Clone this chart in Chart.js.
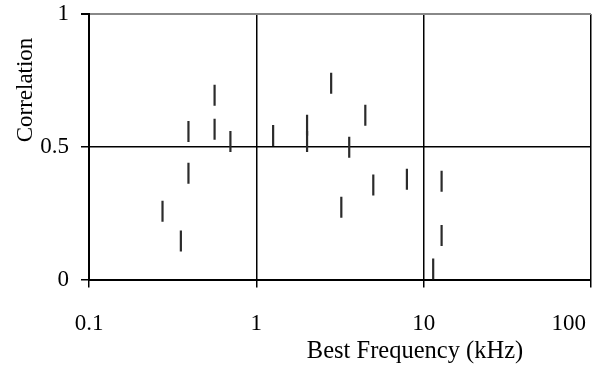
<!DOCTYPE html>
<html>
<head>
<meta charset="utf-8">
<script src="https://cdn.jsdelivr.net/npm/chart.js@4"></script>
<style>
  html, body { margin: 0; padding: 0; background: #fff; }
  #wrap { width: 592px; height: 367px; }
</style>
</head>
<body>
<div id="wrap"><canvas id="chart"></canvas></div>
<script>
// values
const bestFreq = [0.275, 0.354, 0.393, 0.393, 0.563, 0.563, 0.70, 1.26, 2.01, 2.01, 2.80, 3.22, 3.59, 4.48, 5.0, 7.94, 11.4, 12.8, 12.8];
const correlation = [0.257, 0.145, 0.557, 0.400, 0.694, 0.566, 0.520, 0.542, 0.581, 0.520, 0.739, 0.272, 0.498, 0.619, 0.356, 0.378, 0.040, 0.370, 0.166];

const xTicks = [0.1, 1, 10, 100];
const xTickLabels = ['0.1', '1', '10', '100'];
const yTicks = [0, 0.5, 1];
const yTickLabels = ['0', '0.5', '1'];

const xTitle = 'Best Frequency (kHz)';
const yTitle = 'Correlation';

const FONT = "'Liberation Serif', 'Times New Roman', serif";

// titles and x labels sit off-centre like the original, so draw them here
const textPlugin = {
    id: 'textPlugin',
    afterDraw(chart) {
        const ctx = chart.ctx;
        const x = chart.scales.x;
        ctx.save();
        ctx.fillStyle = '#000';
        ctx.font = '23px ' + FONT;
        ctx.textBaseline = 'alphabetic';

        xTicks.forEach((v, i) => {
            const label = xTickLabels[i];
            const w = ctx.measureText(label).width;
            let left = x.getPixelForValue(v) - w / 2;
            if (left + w > chart.width - 6) left = chart.width - 6 - w; // keep "100" inside
            ctx.textAlign = 'left';
            ctx.fillText(label, left, 330);
        });

        ctx.font = '24.5px ' + FONT;
        ctx.textAlign = 'center';
        ctx.fillText(xTitle, 415, 358);

        ctx.font = '23px ' + FONT;
        ctx.translate(32, 90);
        ctx.rotate(-Math.PI / 2);
        ctx.fillText(yTitle, 0, 0);
        ctx.restore();
    }
};

function noPad(s) {
    s.paddingTop = 0;
    s.paddingBottom = 0;
    s.paddingLeft = 0;
    s.paddingRight = 0;
}

const ctx = document.getElementById('chart').getContext('2d');
new Chart(ctx, {
    type: 'scatter',
    data: {
        datasets: [{
            data: bestFreq.map((f, i) => ({ x: f, y: correlation[i] })),
            pointStyle: 'line',
            rotation: 90,
            radius: 10.5,
            hoverRadius: 10.5,
            borderWidth: 2.2,
            hoverBorderWidth: 2.2,
            borderColor: '#2b2b2b',
            backgroundColor: '#2b2b2b'
        }]
    },
    options: {
        responsive: true,
        maintainAspectRatio: false,
        animation: false,
        devicePixelRatio: 1,
        layout: { autoPadding: false, padding: { top: 14, right: 1, left: 0, bottom: 0 } },
        plugins: {
            legend: { display: false },
            tooltip: { enabled: false }
        },
        scales: {
            x: {
                type: 'logarithmic',
                min: 0.1,
                max: 100,
                afterBuildTicks: s => { s.ticks = xTicks.map(v => ({ value: v })); },
                afterFit: s => { s.height = 87.5; noPad(s); },
                ticks: { display: false },
                grid: {
                    color: c => (c.tick && c.tick.value === 0.1) ? 'rgba(0,0,0,0)' : '#000',
                    lineWidth: 1.5,
                    drawTicks: true,
                    tickLength: 8,
                    tickColor: '#000'
                },
                border: { color: '#000', width: 2 },
                title: { display: false }
            },
            y: {
                min: 0,
                max: 1,
                afterBuildTicks: s => { s.ticks = yTicks.map(v => ({ value: v })); },
                afterFit: s => { s.width = 89; noPad(s); },
                ticks: {
                    callback: (v, i) => yTickLabels[i],
                    color: '#000',
                    padding: 12,
                    font: { family: FONT, size: 23 }
                },
                grid: {
                    color: c => {
                        if (!c.tick) return '#000';
                        if (c.tick.value === 1) return '#888';
                        if (c.tick.value === 0) return 'rgba(0,0,0,0)';
                        return '#000';
                    },
                    lineWidth: c => (c.tick && c.tick.value === 1) ? 2 : 1.5,
                    drawTicks: true,
                    tickLength: 8,
                    tickColor: '#000'
                },
                border: { color: '#000', width: 2 },
                title: { display: false }
            }
        }
    },
    plugins: [textPlugin]
});
</script>
</body>
</html>
